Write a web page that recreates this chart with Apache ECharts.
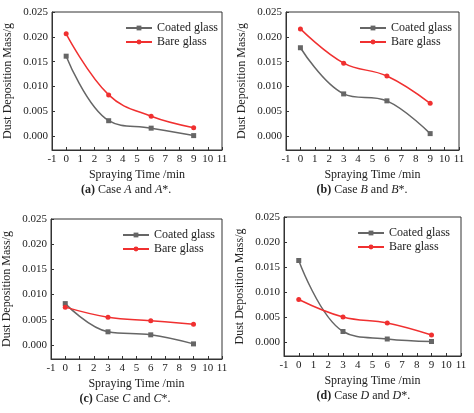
<!DOCTYPE html>
<html><head><meta charset="utf-8">
<script src="https://cdn.jsdelivr.net/npm/echarts@6/dist/echarts.min.js"></script>
<style>html,body{margin:0;padding:0;background:#fff}#c{width:474px;height:413px}</style>
</head><body><div id="c"></div>
<script>
var times = [0, 3, 6, 9];
var coatedA = [0.0161, 0.0031, 0.0016, 0.0001];
var bareA = [0.0206, 0.0083, 0.0040, 0.0017];
var coatedB = [0.0178, 0.0085, 0.0071, 0.0005];
var bareB = [0.0216, 0.0147, 0.0121, 0.0066];
var coatedC = [0.0082, 0.0026, 0.0020, 0.0002];
var bareC = [0.0075, 0.0055, 0.0048, 0.0041];
var coatedD = [0.0163, 0.0021, 0.0006, 0.0001];
var bareD = [0.0085, 0.0050, 0.0038, 0.0014];
var yTicks = [0, 0.005, 0.01, 0.015, 0.02, 0.025];
var xTicks = [-1, 0, 1, 2, 3, 4, 5, 6, 7, 8, 9, 10, 11];

var font = "Liberation Serif";
var panels = [
  { c: coatedA, b: bareA, grid: { left: 52, top: 12, width: 170, height: 138 }, cap: ["a", "A"] },
  { c: coatedB, b: bareB, grid: { left: 286, top: 12, width: 173, height: 138 }, cap: ["b", "B"] },
  { c: coatedC, b: bareC, grid: { left: 49, top: 219, width: 173, height: 140 }, cap: ["c", "C"] },
  { c: coatedD, b: bareD, grid: { left: 284, top: 217, width: 177, height: 139 }, cap: ["d", "D"] }
];

function pairs(ys) { return times.map(function (t, i) { return [t, ys[i]]; }); }

var option = { animation: false, textStyle: { fontFamily: font }, grid: [], xAxis: [], yAxis: [], series: [], legend: [], graphic: [] };
panels.forEach(function (p, i) {
  var g = p.grid;
  option.grid.push({ left: g.left, top: g.top, width: g.width, height: g.height, show: true, borderColor: "#333", borderWidth: 1 });
  option.xAxis.push({
    type: "value", gridIndex: i, min: -1, max: 11,
    name: "Spraying Time /min", nameLocation: "middle", nameGap: 19,
    nameTextStyle: { fontFamily: font, fontSize: 12, color: "#222" },
    axisLine: { onZero: false, lineStyle: { color: "#333" } },
    axisTick: { inside: true, length: 3, customValues: xTicks },
    axisLabel: { customValues: xTicks, fontFamily: font, fontSize: 11, color: "#222", margin: 4 },
    splitLine: { show: false }
  });
  option.yAxis.push({
    type: "value", gridIndex: i, min: -0.0028, max: 0.025,
    name: "Dust Deposition Mass/g", nameLocation: "middle", nameGap: 38,
    nameTextStyle: { fontFamily: font, fontSize: 12, color: "#222" },
    axisLine: { onZero: false, lineStyle: { color: "#333" } },
    axisTick: { inside: true, length: 3, customValues: yTicks },
    axisLabel: { customValues: yTicks, fontFamily: font, fontSize: 11, color: "#222", margin: 4,
      formatter: function (v) { return v.toFixed(3); } },
    splitLine: { show: false }
  });
  option.series.push({
    name: "Coated glass", type: "line", smooth: 0.4, xAxisIndex: i, yAxisIndex: i, data: pairs(p.c),
    symbol: "rect", symbolSize: 5, itemStyle: { color: "#666" }, lineStyle: { color: "#666", width: 1.5 }
  });
  option.series.push({
    name: "Bare glass", type: "line", smooth: 0.4, xAxisIndex: i, yAxisIndex: i, data: pairs(p.b),
    symbol: "circle", symbolSize: 5, itemStyle: { color: "#f03030" }, lineStyle: { color: "#f03030", width: 1.5 }
  });
  option.legend.push({
    orient: "vertical", left: g.left + 68, top: g.top + 5, itemWidth: 26, itemHeight: 6, itemGap: 2,
    textStyle: { fontFamily: font, fontSize: 12, color: "#222" },
    data: ["Coated glass", "Bare glass"]
  });
  option.graphic.push({
    type: "text", left: g.left + g.width / 2 - 56, top: g.top + g.height + 34,
    style: {
      text: "{b|(" + p.cap[0] + ")} Case {i|" + p.cap[1] + "} and {i|" + p.cap[1] + "}*.",
      fontFamily: font, fontSize: 12, fill: "#222",
      rich: { b: { fontWeight: "bold", fontFamily: font, fontSize: 12 }, i: { fontStyle: "italic", fontFamily: font, fontSize: 12 } }
    }
  });
});

var chart = echarts.init(document.getElementById("c"));
chart.setOption(option);
</script></body></html>
